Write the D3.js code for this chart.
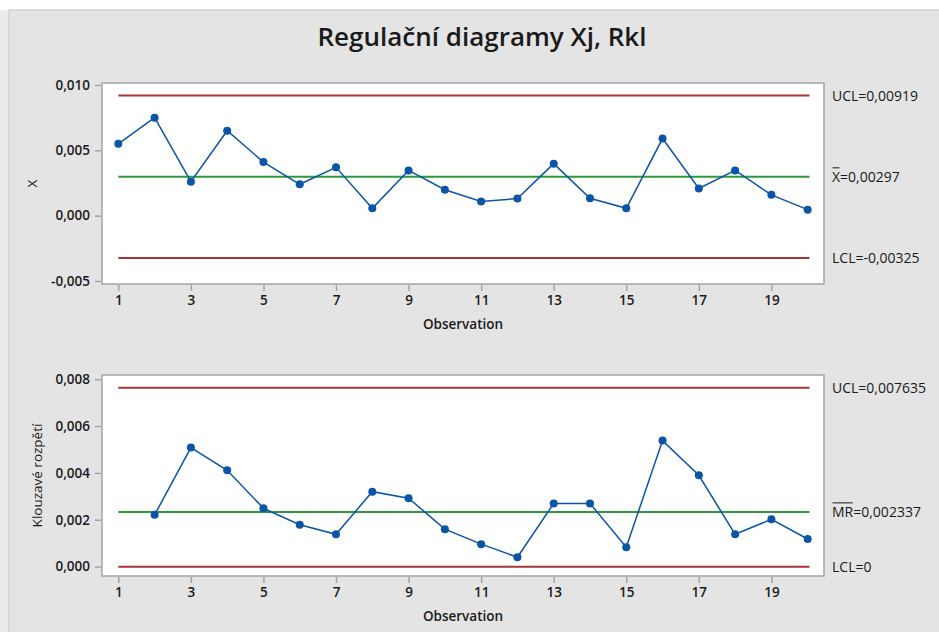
<!DOCTYPE html>
<html>
<head>
<meta charset="utf-8">
<script src="https://cdn.jsdelivr.net/npm/d3@7"></script>
<style>
  body { margin: 0; background: #fff; }
  svg { display: block; }
  text { font-family: "Open Sans", "Noto Sans", sans-serif; fill: #1a1a1a; }
</style>
</head>
<body>
<svg id="chart" width="939" height="632"></svg>
<script>
// data
var obs = d3.range(1, 21);
var xValues = [0.0055, 0.0075, 0.0026, 0.0065, 0.0041, 0.0024, 0.0037, 0.00056, 0.00346, 0.00198,
               0.00108, 0.00131, 0.00398, 0.00133, 0.00056, 0.0059, 0.00208, 0.00346, 0.00159, 0.00046];
var mrObs = d3.range(2, 21);
var mrValues = [0.00221, 0.00508, 0.00411, 0.00249, 0.00179, 0.00138, 0.0032, 0.00292, 0.0016,
                0.00096, 0.0004, 0.0027, 0.0027, 0.00083, 0.00538, 0.0039, 0.00138, 0.00202, 0.00118];
var xLimits = [0.00919, 0.00297, -0.00325];      // UCL, center, LCL
var mrLimits = [0.007635, 0.002337, 0];
var xLimitLabels = ["UCL=0,00919", "X=0,00297", "LCL=-0,00325"];
var mrLimitLabels = ["UCL=0,007635", "MR=0,002337", "LCL=0"];
var xTicks = [1, 3, 5, 7, 9, 11, 13, 15, 17, 19];
var xChartTicks = [-0.005, 0, 0.005, 0.010];
var mrChartTicks = [0, 0.002, 0.004, 0.006, 0.008];

var svg = d3.select("#chart");
var red = "#a83434", green = "#2b9a3b", blue = "#0b55a6", frameCol = "#a4a4a4";

var loc = d3.formatLocale({decimal: ",", thousands: " ", grouping: [3], currency: ["", ""], minus: "-"});
var fmt = loc.format(".3f");

// background panel
svg.append("rect").attr("x", 0).attr("y", 10).attr("width", 939).attr("height", 622).attr("fill", "#ebebeb");
svg.append("rect").attr("x", 9).attr("y", 10).attr("width", 935).attr("height", 630)
  .attr("fill", "#e4e4e4").attr("stroke", "#d2d2d2").attr("stroke-width", 1.5);

svg.append("text").attr("x", 482).attr("y", 46).attr("text-anchor", "middle")
  .style("font-size", "26px").style("font-weight", 600)
  .text("Regulační diagramy Xj, Rkl");

var x = d3.scaleLinear().domain([0.55, 20.45]).range([102, 824]);

function panel(top, bottom, yDomain, ticks, xs, ys, limits, labels, ylabel, ylabelX, barChars) {
  var y = d3.scaleLinear().domain(yDomain).range([bottom, top]);
  var g = svg.append("g");

  g.append("rect").attr("x", x.range()[0]).attr("y", top)
    .attr("width", x.range()[1] - x.range()[0]).attr("height", bottom - top)
    .attr("fill", "#fff").attr("stroke", frameCol).attr("stroke-width", 1.5);

  // axes
  var ay = g.append("g").attr("transform", "translate(" + (x.range()[0] - 1) + ",0)")
    .call(d3.axisLeft(y).tickValues(ticks).tickFormat(fmt).tickSize(6).tickPadding(5));
  var ax = g.append("g").attr("transform", "translate(0," + (bottom + 1) + ")")
    .call(d3.axisBottom(x).tickValues(xTicks).tickSize(6).tickPadding(4));
  [ay, ax].forEach(function(a) {
    a.select(".domain").remove();
    a.selectAll("line").attr("stroke", frameCol).attr("stroke-width", 1.5);
    a.selectAll("text").style("font-size", "13.5px").style("font-weight", 600)
      .style("font-family", '"Open Sans", sans-serif').attr("fill", "#1a1a1a");
  });

  g.append("text").attr("x", x(10.5)).attr("y", bottom + 45).attr("text-anchor", "middle")
    .style("font-size", "13.5px").style("font-weight", 600).text("Observation");

  g.append("text").attr("transform", "translate(" + ylabelX + "," + ((top + bottom) / 2) + ") rotate(-90)")
    .attr("text-anchor", "middle").style("font-size", "13.5px").text(ylabel);

  // control limits
  g.selectAll(".lim").data(limits).enter().append("line")
    .attr("x1", x(1)).attr("x2", x(20.05))
    .attr("y1", function(d) { return y(d); }).attr("y2", function(d) { return y(d); })
    .attr("stroke", function(d, i) { return i == 1 ? green : red; })
    .attr("stroke-width", 2);

  var lab = g.selectAll(".lab").data(labels).enter().append("text")
    .attr("x", 832).attr("y", function(d, i) { return y(limits[i]) + 5; })
    .style("font-size", "14px").text(function(d) { return d; });
  // overbar on the center line label
  lab.filter(function(d, i) { return i == 1; }).each(function() {
    var w = this.getSubStringLength(0, barChars);
    g.append("line").attr("x1", 832.5).attr("x2", 832 + w - 0.5)
      .attr("y1", +this.getAttribute("y") - 14).attr("y2", +this.getAttribute("y") - 14)
      .attr("stroke", "#1a1a1a").attr("stroke-width", 1);
  });

  // data
  var pts = xs.map(function(o, i) { return [o, ys[i]]; });
  g.append("path").datum(pts)
    .attr("d", d3.line().x(function(d) { return x(d[0]); }).y(function(d) { return y(d[1]); }))
    .attr("fill", "none").attr("stroke", blue).attr("stroke-width", 1.5);
  g.selectAll(".pt").data(pts).enter().append("circle")
    .attr("cx", function(d) { return x(d[0]); }).attr("cy", function(d) { return y(d[1]); })
    .attr("r", 4).attr("fill", blue);
}

panel(83, 284, [-0.00523, 0.01015], xChartTicks, obs, xValues, xLimits, xLimitLabels, "X", 37, 1);
panel(375, 576, [-0.0004, 0.00818], mrChartTicks, mrObs, mrValues, mrLimits, mrLimitLabels, "Klouzavé rozpětí", 42, 2);
</script>
</body>
</html>
